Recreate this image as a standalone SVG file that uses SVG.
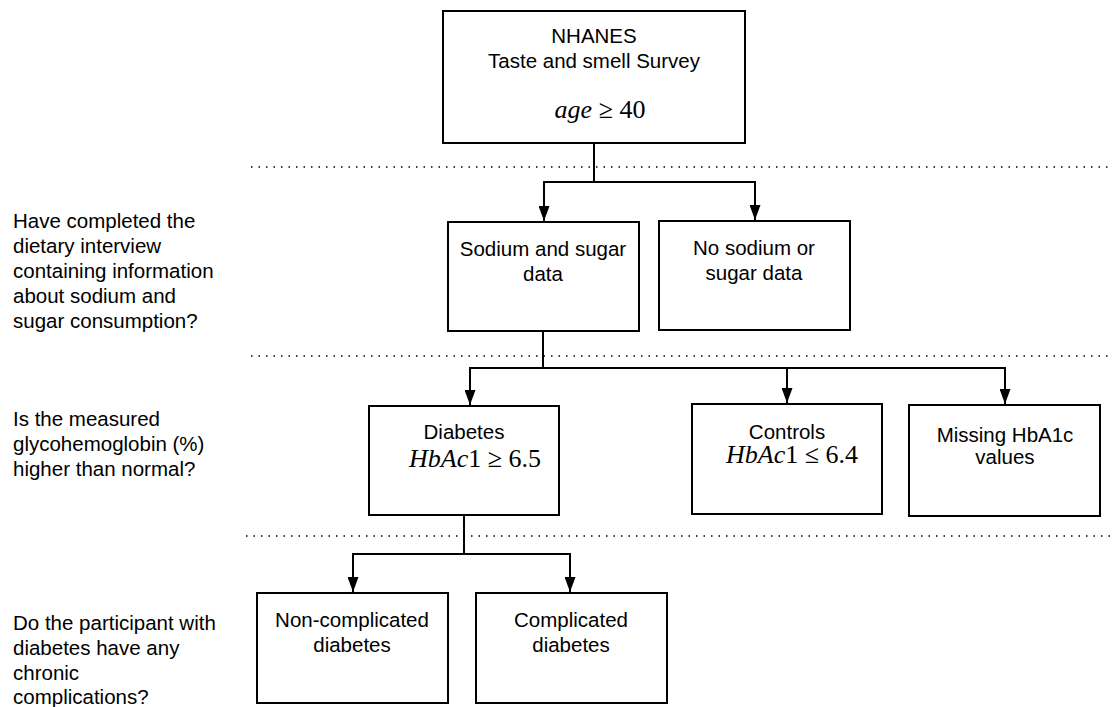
<svg xmlns="http://www.w3.org/2000/svg" width="1115" height="707" viewBox="0 0 1115 707">
<style>
.box{fill:#fff;stroke:#000;stroke-width:2}
.t{font-family:"Liberation Sans",Arial,sans-serif;font-size:20.5px;fill:#000;text-anchor:middle}
.q{font-family:"Liberation Sans",Arial,sans-serif;font-size:20.5px;fill:#000}
.m{font-family:"Liberation Serif","Times New Roman",serif;font-size:26px;fill:#000;text-anchor:middle}
.i{font-style:italic}
.dot{stroke:#000;stroke-width:1.6;stroke-dasharray:1.5 6}
.c{fill:none;stroke:#000;stroke-width:2}
</style>
<defs>
<marker id="ah" markerWidth="15" markerHeight="11" refX="15" refY="5.5" orient="auto" markerUnits="userSpaceOnUse" viewBox="0 0 15 11">
<path d="M0,0 L15,5.5 L0,11 Z" fill="#000"/>
</marker>
</defs>
<g id="separators">
<line class="dot" x1="251" y1="167" x2="1112" y2="167"/>
<line class="dot" x1="251" y1="356" x2="1112" y2="356"/>
<line class="dot" x1="246" y1="536" x2="1112" y2="536"/>
</g>
<g id="questions">
<text class="q" x="13" y="228">Have completed the</text>
<text class="q" x="13" y="253">dietary interview</text>
<text class="q" x="13" y="278">containing information</text>
<text class="q" x="13" y="303">about sodium and</text>
<text class="q" x="13" y="328">sugar consumption?</text>
<text class="q" x="13" y="426">Is the measured</text>
<text class="q" x="13" y="451">glycohemoglobin (%)</text>
<text class="q" x="13" y="476">higher than normal?</text>
<text class="q" x="13" y="630">Do the participant with</text>
<text class="q" x="13" y="655">diabetes have any</text>
<text class="q" x="13" y="680">chronic</text>
<text class="q" x="13" y="704">complications?</text>
</g>
<g id="connectors">
<polyline class="c" points="594,143 594,182 544,182 544,221" marker-end="url(#ah)"/>
<polyline class="c" points="594,182 755,182 755,220" marker-end="url(#ah)"/>
<polyline class="c" points="543,331 543,368 470,368 470,405" marker-end="url(#ah)"/>
<polyline class="c" points="543,368 787,368 787,403" marker-end="url(#ah)"/>
<polyline class="c" points="787,368 1005,368 1005,404" marker-end="url(#ah)"/>
<polyline class="c" points="464,515 464,554 353,554 353,592" marker-end="url(#ah)"/>
<polyline class="c" points="464,554 570,554 570,592" marker-end="url(#ah)"/>
</g>
<g id="nhanes">
<rect class="box" x="443" y="11" width="302" height="132"/>
<text class="t" x="594" y="43">NHANES</text>
<text class="t" x="594" y="68">Taste and smell Survey</text>
<text class="m" x="600" y="118"><tspan class="i">age</tspan> ≥ 40</text>
</g>
<g id="sodium">
<rect class="box" x="448" y="222" width="191" height="109"/>
<text class="t" x="543" y="256">Sodium and sugar</text>
<text class="t" x="543" y="281">data</text>
</g>
<g id="nosodium">
<rect class="box" x="659" y="221" width="191" height="109"/>
<text class="t" x="754" y="255">No sodium or</text>
<text class="t" x="754" y="280">sugar data</text>
</g>
<g id="diabetes">
<rect class="box" x="369" y="406" width="190" height="109"/>
<text class="t" x="464" y="439">Diabetes</text>
<text class="m" x="475" y="467"><tspan class="i">HbAc</tspan>1 ≥ 6.5</text>
</g>
<g id="controls">
<rect class="box" x="692" y="404" width="190" height="110"/>
<text class="t" x="787" y="439">Controls</text>
<text class="m" x="792" y="463"><tspan class="i">HbAc</tspan>1 ≤ 6.4</text>
</g>
<g id="missing">
<rect class="box" x="909" y="405" width="191" height="111"/>
<text class="t" x="1005" y="442">Missing HbA1c</text>
<text class="t" x="1005" y="464">values</text>
</g>
<g id="noncomplicated">
<rect class="box" x="257" y="593" width="191" height="110"/>
<text class="t" x="352" y="627">Non-complicated</text>
<text class="t" x="352" y="652">diabetes</text>
</g>
<g id="complicated">
<rect class="box" x="476" y="593" width="191" height="110"/>
<text class="t" x="571" y="627">Complicated</text>
<text class="t" x="571" y="652">diabetes</text>
</g>
</svg>
